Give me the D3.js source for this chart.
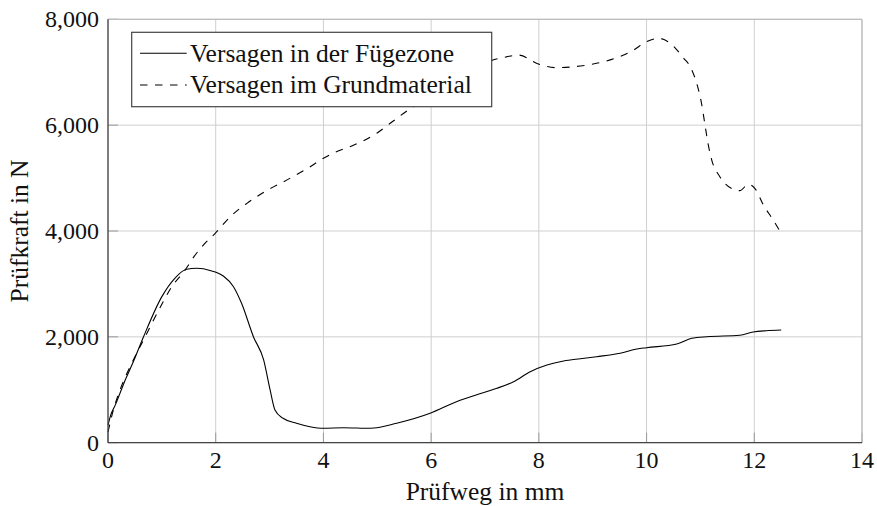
<!DOCTYPE html>
<html>
<head>
<meta charset="utf-8">
<script src="https://cdn.jsdelivr.net/npm/d3@7"></script>
<style>
  html, body { margin: 0; padding: 0; background: #fff; }
  svg { display: block; }
  text { font-family: "Liberation Serif", "Times New Roman", serif; fill: #111; }
</style>
</head>
<body>
<svg id="chart" width="877" height="506"></svg>
<script>
// Prüfweg (mm) / Prüfkraft (N) for both failure modes
const fuegezoneX = [0, 0.05, 0.13, 0.32, 0.47, 0.66, 1.0, 1.24, 1.46, 1.65, 1.91, 2.14, 2.33, 2.48, 2.7, 2.89, 3.01, 3.1, 3.25, 3.5, 3.75, 4.0, 4.37, 4.87, 5.36, 5.98, 6.47, 6.95, 7.22, 7.53, 7.84, 8.15, 8.46, 8.77, 9.07, 9.51, 9.82, 10.0, 10.56, 10.84, 11.12, 11.73, 11.98, 12.22, 12.5];
const fuegezoneY = [330, 520, 700, 1185, 1530, 2003, 2760, 3106, 3276, 3295, 3250, 3150, 2948, 2634, 2003, 1563, 996, 618, 461, 367, 302, 272, 283, 272, 367, 555, 775, 940, 1028, 1153, 1342, 1468, 1544, 1587, 1625, 1689, 1770, 1795, 1865, 1972, 2003, 2029, 2091, 2116, 2129];

const grundX = [0, 0.1, 0.22, 0.44, 0.69, 0.97, 1.18, 1.43, 1.6, 1.77, 1.99, 2.27, 2.58, 2.94, 3.35, 3.7, 4.0, 4.2, 4.49, 4.99, 5.24, 5.67, 6.0, 6.5, 7.12, 7.4, 7.62, 7.99, 8.33, 8.77, 9.01, 9.45, 9.76, 10.0, 10.22, 10.44, 10.69, 10.81, 10.93, 11.02, 11.08, 11.14, 11.21, 11.36, 11.61, 11.73, 11.89, 12.01, 12.17, 12.35, 12.5];
const grundY = [200, 620, 990, 1500, 2000, 2560, 2940, 3260, 3520, 3735, 3956, 4270, 4523, 4760, 4980, 5180, 5374, 5480, 5593, 5846, 6035, 6349, 6520, 6850, 7220, 7290, 7325, 7155, 7086, 7118, 7155, 7275, 7420, 7577, 7641, 7546, 7263, 7105, 6791, 6413, 6035, 5657, 5341, 5026, 4788, 4762, 4882, 4807, 4491, 4208, 3956];

const xTicks = [0, 2, 4, 6, 8, 10, 12, 14];
const yTicks = [0, 2000, 4000, 6000, 8000];

const seriesNames = ["Versagen in der Fügezone", "Versagen im Grundmaterial"];
const xTitle = "Prüfweg in mm";
const yTitle = "Prüfkraft in N";

const svg = d3.select("#chart");
const plotL = 108, plotR = 862, plotT = 19.3, plotB = 442.7;

const x = d3.scaleLinear().domain([0, 14]).range([plotL, plotR]);
const y = d3.scaleLinear().domain([0, 8000]).range([plotB, plotT]);

const gridColor = "#cfcfcf";

// grid
const grid = svg.append("g");
grid.append("g").selectAll("line").data(xTicks).join("line")
  .attr("x1", d => x(d)).attr("x2", d => x(d))
  .attr("y1", plotT).attr("y2", plotB)
  .attr("stroke", gridColor).attr("stroke-width", 1);
grid.append("g").selectAll("line").data(yTicks).join("line")
  .attr("x1", plotL).attr("x2", plotR)
  .attr("y1", d => y(d)).attr("y2", d => y(d))
  .attr("stroke", gridColor).attr("stroke-width", 1);

// inner tick marks
const tickLen = 10;
svg.append("g").selectAll("line").data(xTicks).join("line")
  .attr("x1", d => x(d)).attr("x2", d => x(d))
  .attr("y1", plotB).attr("y2", plotB - tickLen)
  .attr("stroke", "#9a9a9a").attr("stroke-width", 1);
svg.append("g").selectAll("line").data(yTicks).join("line")
  .attr("x1", plotL).attr("x2", plotL + tickLen)
  .attr("y1", d => y(d)).attr("y2", d => y(d))
  .attr("stroke", "#9a9a9a").attr("stroke-width", 1);

// curves
const line = d3.line()
  .x(d => x(d[0])).y(d => y(d[1]))
  .curve(d3.curveMonotoneX);

const fuege = fuegezoneX.map((v, i) => [v, fuegezoneY[i]]);
const grund = grundX.map((v, i) => [v, grundY[i]]);

svg.append("path").datum(grund)
  .attr("d", line).attr("fill", "none")
  .attr("stroke", "#000").attr("stroke-width", 1.1)
  .attr("stroke-dasharray", "7.5,7.5");
svg.append("path").datum(fuege)
  .attr("d", line).attr("fill", "none")
  .attr("stroke", "#000").attr("stroke-width", 1.1);

// frame: light on top/right, dark on left/bottom
svg.append("line").attr("x1", plotL).attr("x2", plotR).attr("y1", plotT).attr("y2", plotT)
  .attr("stroke", "#bdbdbd").attr("stroke-width", 1.2);
svg.append("line").attr("x1", plotR).attr("x2", plotR).attr("y1", plotT).attr("y2", plotB)
  .attr("stroke", "#bdbdbd").attr("stroke-width", 1.2);
svg.append("line").attr("x1", plotL).attr("x2", plotL).attr("y1", plotT).attr("y2", plotB)
  .attr("stroke", "#444").attr("stroke-width", 1.3);
svg.append("line").attr("x1", plotL).attr("x2", plotR).attr("y1", plotB).attr("y2", plotB)
  .attr("stroke", "#444").attr("stroke-width", 1.3);

// tick labels
const fmt = d3.format(",");
svg.append("g").selectAll("text").data(xTicks).join("text")
  .attr("x", d => x(d)).attr("y", 468)
  .attr("text-anchor", "middle").attr("font-size", 24)
  .text(d => d);
svg.append("g").selectAll("text").data(yTicks).join("text")
  .attr("x", plotL - 9).attr("y", d => y(d) + 8)
  .attr("text-anchor", "end").attr("font-size", 24)
  .text(d => fmt(d));

// axis titles
svg.append("text")
  .attr("x", (plotL + plotR) / 2).attr("y", 500)
  .attr("text-anchor", "middle").attr("font-size", 25.5)
  .text(xTitle);
svg.append("text")
  .attr("transform", `translate(28,${(plotT + plotB) / 2}) rotate(-90)`)
  .attr("text-anchor", "middle").attr("font-size", 25.5)
  .text(yTitle);

// legend
const lg = svg.append("g");
lg.append("rect")
  .attr("x", 131.7).attr("y", 32.3).attr("width", 360).attr("height", 74.4)
  .attr("fill", "#fff").attr("stroke", "#444").attr("stroke-width", 1.2);
const rows = [
  { name: seriesNames[0], dash: null, ly: 53.3, ty: 62 },
  { name: seriesNames[1], dash: "7.5,7.5", ly: 85, ty: 93 }
];
rows.forEach(r => {
  lg.append("line").attr("x1", 140).attr("x2", 186.7)
    .attr("y1", r.ly).attr("y2", r.ly)
    .attr("stroke", "#000").attr("stroke-width", 1.1)
    .attr("stroke-dasharray", r.dash);
  lg.append("text").attr("x", 190).attr("y", r.ty)
    .attr("font-size", 25.5).text(r.name);
});
</script>
</body>
</html>
